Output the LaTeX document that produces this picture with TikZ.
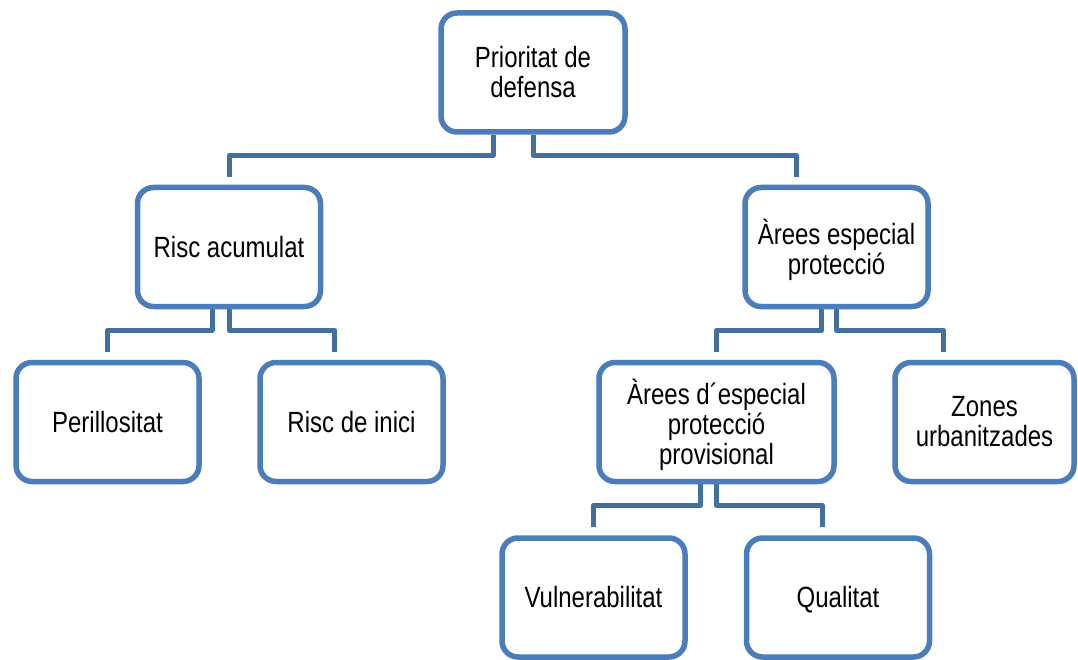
\documentclass[tikz,border=0pt]{standalone}
\usepackage{fontspec}
\usepackage{graphicx}
\setmainfont{Liberation Sans}
\definecolor{boxblue}{HTML}{4A7DBA}
\definecolor{linkblue}{HTML}{43709F}
\newcommand\boxtext[1]{\raisebox{-4pt}[\height][\depth]{\scalebox{1}[1.22]{\begin{tabular}{@{}c@{}}#1\end{tabular}}}}

\begin{document}
\begin{tikzpicture}[x=1pt,y=-1pt,
  box/.style={draw=boxblue,line width=5.5pt,rounded corners=16pt,fill=white,
    align=center,minimum width=183pt,minimum height=119pt,
    font=\fontsize{24}{24}\selectfont},
  link/.style={draw=linkblue,line width=5pt,line join=round}]
  \useasboundingbox (0,0) rectangle (1078,660);

  \node[box,minimum width=184pt] (prior) at (533,72.5) {\boxtext{Prioritat de\\defensa}};
  \node[box] (risc) at (229,247) {\boxtext{Risc acumulat}};
  \node[box] (arees) at (836.5,247) {\boxtext{Àrees especial\\protecció}};
  \node[box] (peril) at (107.5,422) {\boxtext{Perillositat}};
  \node[box] (inici) at (351.5,422) {\boxtext{Risc de inici}};
  \node[box,minimum width=235pt] (provis) at (716.5,422) {\boxtext{Àrees d´especial\\protecció\\provisional}};
  \node[box,minimum width=179pt] (zones) at (984.5,422) {\boxtext{Zones\\urbanitzades}};
  \node[box] (vulner) at (593.5,597.5) {\boxtext{Vulnerabilitat}};
  \node[box] (qualit) at (838,597.5) {\boxtext{Qualitat}};

  \draw[link] ([xshift=-40pt]prior.south) -- ++(0,21) -| ([yshift=8pt]risc.north);
  \draw[link] (prior.south) -- ++(0,21) -| ([xshift=-40pt,yshift=8pt]arees.north);
  \draw[link] ([xshift=-17pt]risc.south) -- ++(0,21) -| ([yshift=8pt]peril.north);
  \draw[link] (risc.south) -- ++(0,21) -| ([xshift=-17pt,yshift=8pt]inici.north);
  \draw[link] ([xshift=-15pt]arees.south) -- ++(0,21) -| ([yshift=8pt]provis.north);
  \draw[link] (arees.south) -- ++(0,21) -| ([xshift=-41pt,yshift=8pt]zones.north);
  \draw[link] ([xshift=-16pt]provis.south) -- ++(0,21) -| ([yshift=8pt]vulner.north);
  \draw[link] (provis.south) -- ++(0,21) -| ([xshift=-16pt,yshift=8pt]qualit.north);
\end{tikzpicture}
\end{document}
